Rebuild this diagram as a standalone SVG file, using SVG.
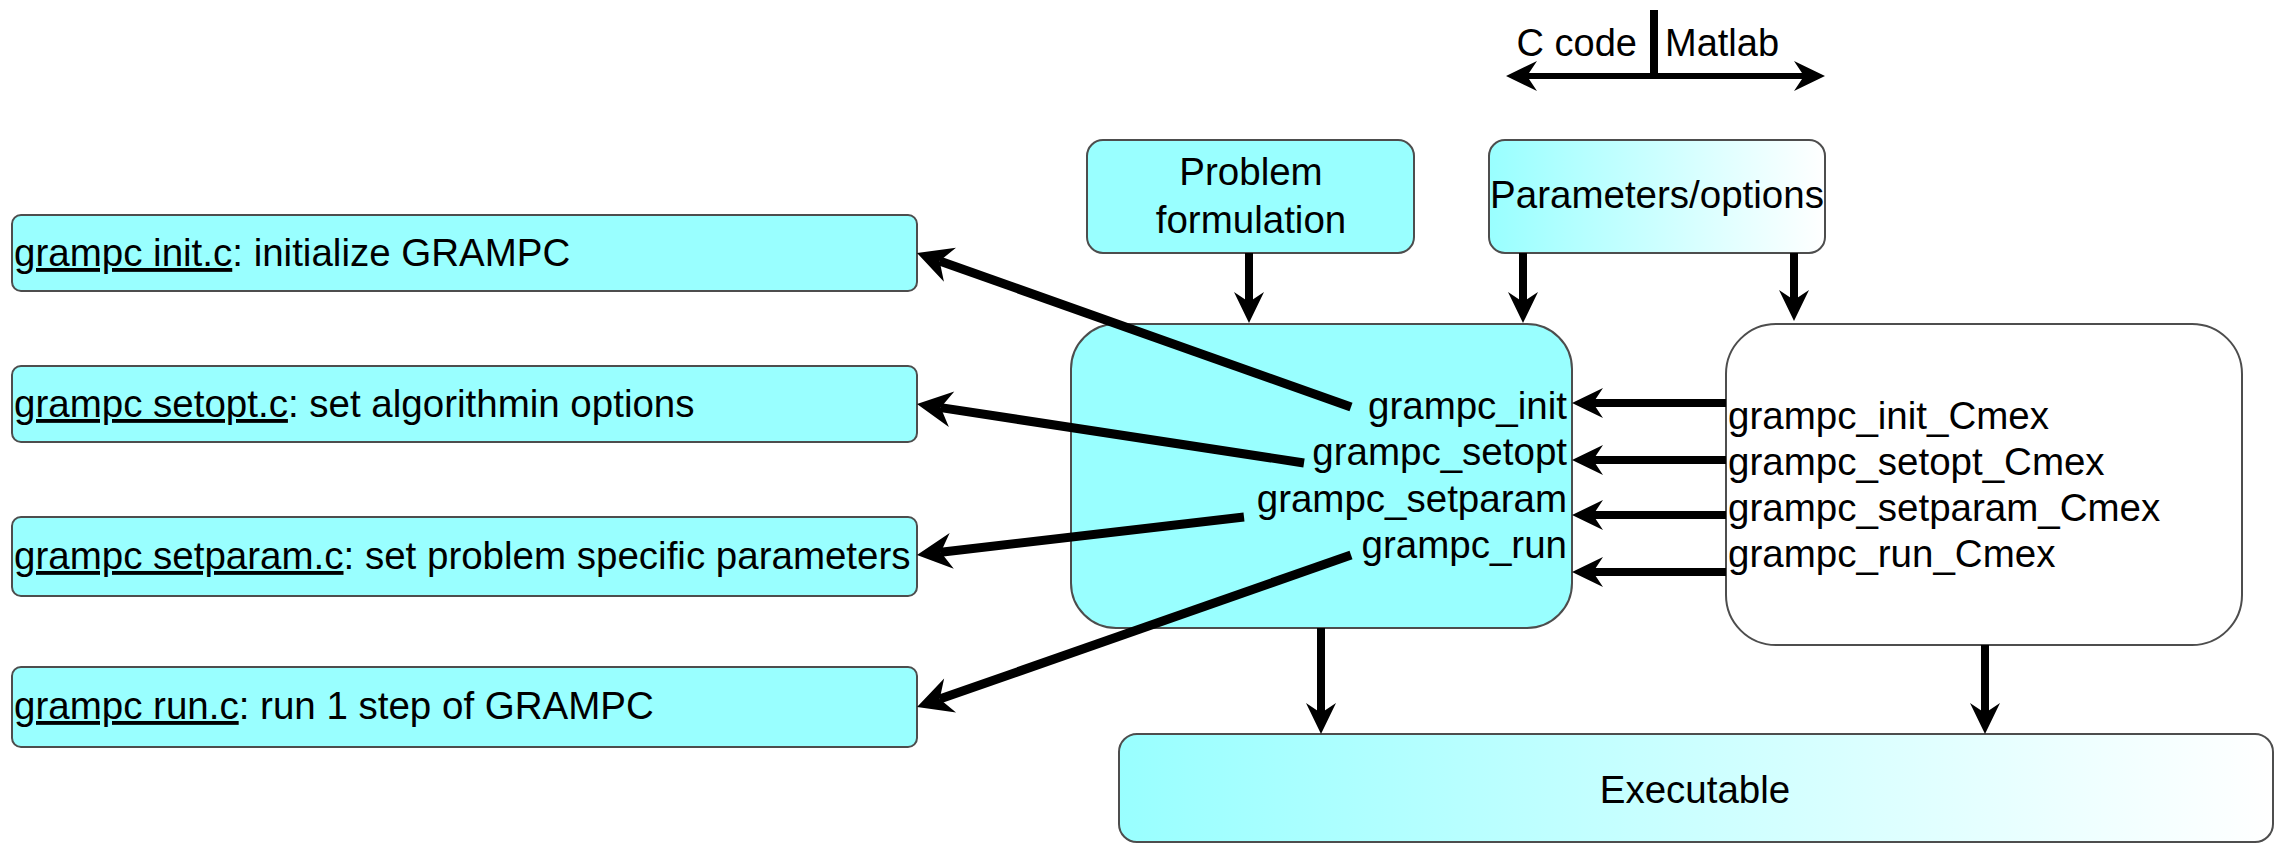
<svg xmlns="http://www.w3.org/2000/svg" width="2275" height="843" viewBox="0 0 2275 843">
<style>
text{font-family:"Liberation Sans",Arial,sans-serif;font-size:38.5px;fill:#000}
.box{fill:#99ffff;stroke:#4d4d4d;stroke-width:2}
.wbox{fill:#ffffff;stroke:#4d4d4d;stroke-width:2}
.ln{stroke:#000;fill:none;stroke-width:9}
.lh{stroke:#000;fill:none;stroke-width:8}
.u{text-decoration:underline}
</style>
<defs>
<linearGradient id="g1" x1="0" y1="0" x2="1" y2="0">
<stop offset="0" stop-color="#99ffff"/>
<stop offset="1" stop-color="#ffffff"/>
</linearGradient>
<marker id="aL" markerUnits="userSpaceOnUse" viewBox="-12 -19 38 38" markerWidth="38" markerHeight="38" refX="0" refY="0" orient="auto">
<path d="M24,0 L-11,-18 L0,0 L-11,18 Z" fill="#000"/>
</marker>
<marker id="aS" markerUnits="userSpaceOnUse" viewBox="-11 -16 34 32" markerWidth="34" markerHeight="32" refX="0" refY="0" orient="auto-start-reverse">
<path d="M21,0 L-10,-15 L0,0 L-10,15 Z" fill="#000"/>
</marker>
</defs>

<g id="legend">
<rect x="1650" y="10" width="8" height="66" fill="#000"/>
<text x="1637" y="56" text-anchor="end" style="font-size:38px">C code</text>
<text x="1665" y="56" style="font-size:38px">Matlab</text>
</g>

<g id="init_c">
<rect class="box" x="12" y="215" width="905" height="76" rx="9"/>
<text x="14" y="266"><tspan class="u">grampc init.c</tspan>: initialize GRAMPC</text>
</g>
<g id="setopt_c">
<rect class="box" x="12" y="366" width="905" height="76" rx="9"/>
<text x="14" y="417"><tspan class="u">grampc setopt.c</tspan>: set algorithmin options</text>
</g>
<g id="setparam_c">
<rect class="box" x="12" y="517" width="905" height="79" rx="9"/>
<text x="14" y="569"><tspan class="u">grampc setparam.c</tspan>: set problem specific parameters</text>
</g>
<g id="run_c">
<rect class="box" x="12" y="667" width="905" height="80" rx="9"/>
<text x="14" y="719"><tspan class="u">grampc run.c</tspan>: run 1 step of GRAMPC</text>
</g>

<g id="problem">
<rect class="box" x="1087" y="140" width="327" height="113" rx="16"/>
<text x="1251" y="185" text-anchor="middle">Problem</text>
<text x="1251" y="233" text-anchor="middle">formulation</text>
</g>
<g id="params">
<rect x="1489" y="140" width="336" height="113" rx="16" fill="url(#g1)" stroke="#4d4d4d" stroke-width="2"/>
<text x="1657" y="208" text-anchor="middle">Parameters/options</text>
</g>

<g id="ccode">
<rect class="box" x="1071" y="324" width="501" height="304" rx="45"/>
<text x="1567" y="419" text-anchor="end">grampc_init</text>
<text x="1567" y="465" text-anchor="end">grampc_setopt</text>
<text x="1567" y="512" text-anchor="end">grampc_setparam</text>
<text x="1567" y="558" text-anchor="end">grampc_run</text>
</g>
<g id="matlab">
<rect class="wbox" x="1726" y="324" width="516" height="321" rx="50"/>
<text x="1728" y="429">grampc_init_Cmex</text>
<text x="1728" y="475">grampc_setopt_Cmex</text>
<text x="1728" y="521">grampc_setparam_Cmex</text>
<text x="1728" y="567">grampc_run_Cmex</text>
</g>

<g id="executable">
<rect x="1119" y="734" width="1154" height="108" rx="18" fill="url(#g1)" stroke="#4d4d4d" stroke-width="2"/>
<text x="1695" y="803" text-anchor="middle">Executable</text>
</g>

<g id="connectors">
<line class="lh" x1="1527" y1="76" x2="1804" y2="76" marker-start="url(#aS)" marker-end="url(#aS)" style="stroke-width:6"/>
<line class="ln" x1="1351" y1="407" x2="939.6" y2="261" marker-end="url(#aL)"/>
<line class="ln" x1="1304" y1="463" x2="940.7" y2="407.6" marker-end="url(#aL)"/>
<line class="ln" x1="1244" y1="517" x2="940.8" y2="552.2" marker-end="url(#aL)"/>
<line class="ln" x1="1351" y1="555" x2="939.7" y2="699.1" marker-end="url(#aL)"/>
<line class="lh" x1="1726" y1="403" x2="1593" y2="403" marker-end="url(#aS)"/>
<line class="lh" x1="1726" y1="460" x2="1593" y2="460" marker-end="url(#aS)"/>
<line class="lh" x1="1726" y1="515" x2="1593" y2="515" marker-end="url(#aS)"/>
<line class="lh" x1="1726" y1="572" x2="1593" y2="572" marker-end="url(#aS)"/>
<line class="lh" x1="1249" y1="253" x2="1249" y2="302" marker-end="url(#aS)"/>
<line class="lh" x1="1523" y1="253" x2="1523" y2="302" marker-end="url(#aS)"/>
<line class="lh" x1="1794" y1="253" x2="1794" y2="300" marker-end="url(#aS)"/>
<line class="lh" x1="1321" y1="628" x2="1321" y2="713" marker-end="url(#aS)"/>
<line class="lh" x1="1985" y1="645" x2="1985" y2="713" marker-end="url(#aS)"/>
</g>
</svg>
